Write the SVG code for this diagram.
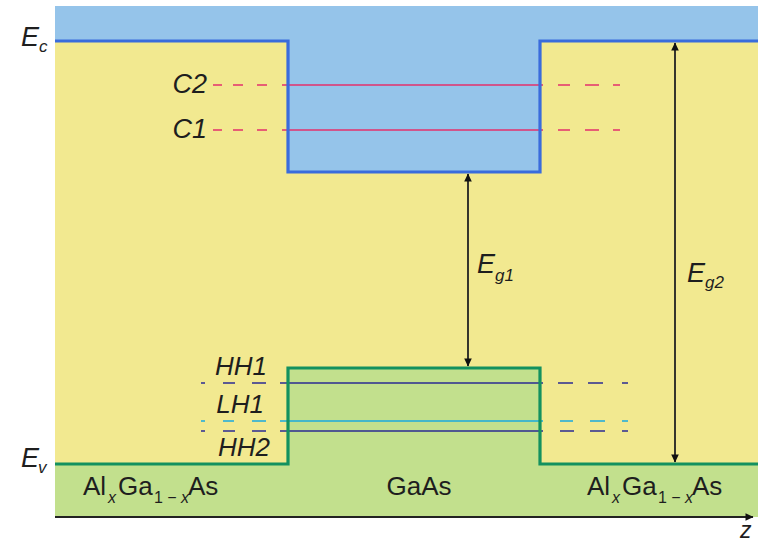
<svg xmlns="http://www.w3.org/2000/svg" width="758" height="543" viewBox="0 0 758 543">
<defs>
<style>
.lbl{font-family:"Liberation Sans",Arial,sans-serif;fill:#1e1e1e}
.it{font-style:italic}
.big{font-size:27px}
.mid{font-size:26px}
.sub{font-size:17px}
.sub2{font-size:16px}
.band{fill:none;stroke-width:3.2;stroke-linejoin:miter}
.lvl{fill:none;stroke-width:1.7}
.arr{fill:none;stroke:#222;stroke-width:1.8}
</style>
<marker id="ah" viewBox="0 0 8 14" refX="7.5" refY="7" markerWidth="9" markerHeight="14" markerUnits="userSpaceOnUse" orient="auto-start-reverse">
<path d="M0,3.2 L8,7 L0,10.8 Z" fill="#111"/>
</marker>
</defs>
<rect x="0" y="0" width="758" height="543" fill="#ffffff"/>
<g id="regions">
<rect x="55" y="41" width="703" height="423" fill="#f2e990"/>
<polygon points="55,6 758,6 758,41 540,41 540,172 288,172 288,41 55,41" fill="#95c4ea"/>
<polygon points="55,517 758,517 758,464 540,464 540,368 288,368 288,464 55,464" fill="#c2e08d"/>
</g>
<g id="levels">
<path class="lvl" stroke="#e3306c" d="M288,85H540 M213,85h9 M233,85h10 M257,85h10 M282,85h6 M540,85h3 M558,85h12 M585,85h14 M613,85h7"/>
<path class="lvl" stroke="#e3306c" d="M288,130H540 M213,130h9 M233,130h10 M257,130h10 M282,130h6 M540,130h3 M558,130h12 M585,130h14 M613,130h7"/>
<path class="lvl" stroke="#2b2b92" d="M288,383H540 M201,383h4 M223,383h12 M252,383h14 M280,383h8 M540,383h3 M558,383h15 M588,383h15 M622,383h6"/>
<path class="lvl" stroke="#1aa9de" d="M288,421H540 M201,421h4 M223,421h11 M252,421h14 M280,421h8 M540,421h3 M560,421h13 M590,421h15 M622,421h6"/>
<path class="lvl" stroke="#2b2b92" d="M288,431H540 M201,431h4 M223,431h12 M252,431h14 M280,431h8 M540,431h3 M560,431h14 M590,431h15 M622,431h6"/>
</g>
<g id="band-edges">
<path id="conduction" class="band" stroke="#3a6cdc" d="M55,41H288V172H540V41H758"/>
<path id="valence" class="band" stroke="#13915f" d="M55,464H288V368H540V464H758"/>
</g>
<g id="connectors">
<line class="arr" x1="468" y1="174" x2="468" y2="366" marker-start="url(#ah)" marker-end="url(#ah)"/>
<line class="arr" x1="675" y1="43" x2="675" y2="462" marker-start="url(#ah)" marker-end="url(#ah)"/>
<line x1="55" y1="517" x2="753" y2="517" stroke="#222" stroke-width="2.2" marker-end="url(#ah)"/>
</g>
<g id="labels">
<text class="lbl it big" x="21" y="46">E<tspan class="sub" x="39" y="52">c</tspan></text>
<text class="lbl it big" x="21" y="467">E<tspan class="sub" x="38" y="473">v</tspan></text>
<text class="lbl it big" x="207" y="93" text-anchor="end">C2</text>
<text class="lbl it big" x="207" y="138" text-anchor="end">C1</text>
<text class="lbl it mid" x="267" y="375" text-anchor="end">HH1</text>
<text class="lbl it mid" x="264" y="413" text-anchor="end">LH1</text>
<text class="lbl it mid" x="270" y="456" text-anchor="end">HH2</text>
<text class="lbl it big" x="477" y="273">E<tspan class="sub" x="495" y="281">g1</tspan></text>
<text class="lbl it big" x="687" y="282">E<tspan class="sub" x="705" y="288">g2</tspan></text>
<text class="lbl mid" x="83" y="495">Al<tspan class="it sub2" x="108" y="503">x</tspan><tspan x="118" y="495">Ga</tspan><tspan class="sub2" x="154" y="503">1 − </tspan><tspan class="it sub2" x="181" y="503">x</tspan><tspan x="188" y="495">As</tspan></text>
<text class="lbl mid" x="419" y="495" text-anchor="middle">GaAs</text>
<text class="lbl mid" x="587" y="495">Al<tspan class="it sub2" x="612" y="503">x</tspan><tspan x="622" y="495">Ga</tspan><tspan class="sub2" x="658" y="503">1 − </tspan><tspan class="it sub2" x="685" y="503">x</tspan><tspan x="692" y="495">As</tspan></text>
<text class="lbl it" font-size="23" x="740" y="538">z</text>
</g>
</svg>
